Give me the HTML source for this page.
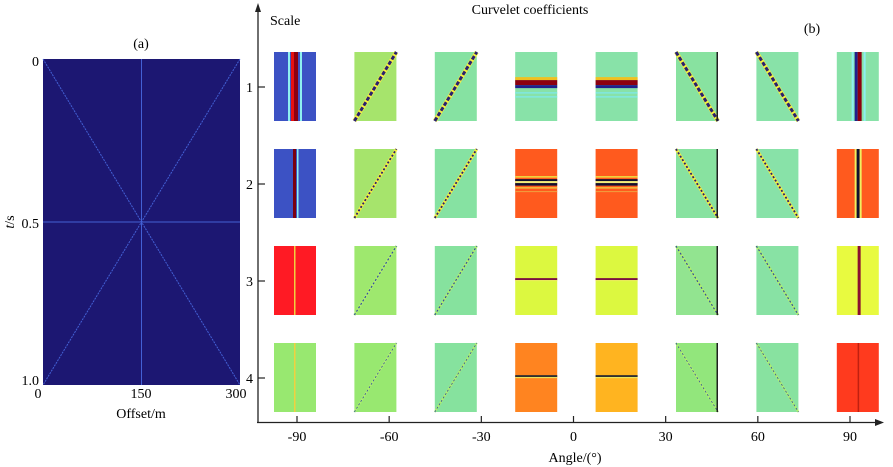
<!DOCTYPE html>
<html><head><meta charset="utf-8">
<style>
html,body{margin:0;padding:0;background:#fff;}
svg{display:block;font-family:"Liberation Serif",serif;}
</style></head>
<body>
<svg id="fig" width="893" height="467" viewBox="0 0 893 467">
  <g>
    <text x="141" y="48" font-size="14" text-anchor="middle">(a)</text>
    <rect x="43" y="59" width="197" height="326" fill="#1c1772"/>
    <g stroke="#4a6de6" stroke-width="1" opacity="0.85">
      <line x1="141.5" y1="59" x2="141.5" y2="385"/>
      <line x1="43" y1="222" x2="240" y2="222"/>
      <line x1="43" y1="59" x2="240" y2="385" stroke-dasharray="2,1"/>
      <line x1="240" y1="59" x2="43" y2="385" stroke-dasharray="2,1"/>
    </g>
    <text x="39" y="66" font-size="14" text-anchor="end">0</text>
    <text x="39" y="228" font-size="14" text-anchor="end">0.5</text>
    <text x="39" y="385" font-size="14" text-anchor="end">1.0</text>
    <text x="14" y="222" font-size="14" text-anchor="middle" transform="rotate(-90 14 222)"><tspan font-style="italic">t</tspan>/s</text>
    <text x="38" y="398" font-size="14" text-anchor="middle">0</text>
    <text x="141" y="398" font-size="14" text-anchor="middle">150</text>
    <text x="236" y="398" font-size="14" text-anchor="middle">300</text>
    <text x="141" y="418" font-size="14" text-anchor="middle">Offset/m</text>
  </g>
  <g id="pb">
    <text x="530" y="14" font-size="14" text-anchor="middle">Curvelet coefficients</text>
    <text x="812" y="33" font-size="14" text-anchor="middle">(b)</text>
    <text x="270" y="25" font-size="14">Scale</text>
    <line x1="258" y1="10" x2="258" y2="423" stroke="#222" stroke-width="1.3"/>
    <polygon points="258,3 255,12 261,12" fill="#222"/>
    <line x1="257" y1="422.5" x2="876" y2="422.5" stroke="#222" stroke-width="1.3"/>
    <polygon points="884,422.5 875,419 875,426" fill="#222"/>
    <text x="575" y="462" font-size="14" text-anchor="middle">Angle/(°)</text>
  </g>
</svg>
<script>
const angleTicks = [-90, -60, -30, 0, 30, 60, 90];
const scales = [1, 2, 3, 4];
const tileKinds = [
  ['v','d','d','h','h','b','b','v'],
  ['v','d','d','h','h','b','b','v'],
  ['v','d','d','h','h','b','b','v'],
  ['v','d','d','h','h','b','b','v']
];
const tileColors = [
  ['#3c52c4','#a6e46c','#86e2a2','#88e2a8','#88e2a8','#88e2a0','#88e2a8','#88e2a8'],
  ['#3c52c4','#a6e46c','#86e2a2','#ff5a1e','#ff5a1e','#88e2a0','#88e2a8','#ff5a1e'],
  ['#ff1a24','#9ee86e','#86e29e','#dcf840','#dcf840','#92e490','#88e2a4','#e8fa40'],
  ['#98e870','#98e870','#86e29e','#ff8420','#ffb420','#92e67c','#88e2a0','#ff3a1e']
];
const lineWidths = [3, 1.8, 1.2, 0.8];

const svg = document.getElementById('fig');
const NS = 'http://www.w3.org/2000/svg';
const xAngle = a => 297 + (a + 90) * (850 - 297) / 180;
const yScale = s => 87 + (s - 1) * 97;
const colX = i => 274 + i * 80.4;
const TW = 42, TH = 69;

function mk(tag, attrs, parent) {
  const e = document.createElementNS(NS, tag);
  for (const k in attrs) e.setAttribute(k, attrs[k]);
  (parent || svg).appendChild(e);
  return e;
}

angleTicks.forEach(a => {
  const x = xAngle(a);
  const t = mk('line', {x1: x, y1: 416, x2: x, y2: 422.5, stroke: '#222', 'stroke-width': 1.2});
  
  
  const l = mk('text', {x: x, y: 441, 'font-size': 14, 'text-anchor': 'middle'});
  l.textContent = a;
  
  
});

scales.forEach((s, r) => {
  const y = yScale(s);
  const t = mk('line', {x1: 258, y1: y, x2: 265, y2: y, stroke: '#222', 'stroke-width': 1.2});
  
  
  const l = mk('text', {x: 253, y: y + 5, 'font-size': 14, 'text-anchor': 'end'});
  l.textContent = s;
  
  

  const top = y - 35;
  tileKinds[r].forEach((k, c) => {
    const x0 = colX(c);
    const g = mk('g', {});
    
    
    mk('rect', {x: x0, y: top, width: TW, height: TH, fill: tileColors[r][c]}, g);
    const lw = lineWidths[r];
    if (k === 'v') {
      const cx = x0 + TW * (c === 0 ? 0.5 : 0.52);
      if (r === 0) {
        mk('rect', {x: cx - 7, y: top, width: 2, height: TH, fill: '#8ef0f0'}, g);
        mk('rect', {x: cx - 4, y: top, width: 3, height: TH, fill: c === 0 ? '#e81010' : '#20208c'}, g);
        mk('rect', {x: cx - 1, y: top, width: 4, height: TH, fill: '#8c0010'}, g);
        mk('rect', {x: cx + 5, y: top, width: 2, height: TH, fill: '#8ef0f0'}, g);
      } else if (r === 1) {
        if (c === 0) {
          mk('rect', {x: cx - 2, y: top, width: 3, height: TH, fill: '#7a0010'}, g);
          mk('rect', {x: cx + 2, y: top, width: 1.5, height: TH, fill: '#8ef0f0'}, g);
        } else {
          mk('rect', {x: cx - 4, y: top, width: 2, height: TH, fill: '#f0f060'}, g);
          mk('rect', {x: cx - 2, y: top, width: 3, height: TH, fill: '#101030'}, g);
          mk('rect', {x: cx + 1, y: top, width: 2, height: TH, fill: '#f0f060'}, g);
        }
      } else {
        mk('rect', {x: cx - 1, y: top, width: c === 7 && r === 2 ? 3 : 1.5, height: TH, fill: r === 2 && c === 7 ? '#8a1030' : (r === 3 && c === 7 ? '#c02010' : '#f0d040')}, g);
      }
    } else if (k === 'd' || k === 'b') {
      const x1 = x0, y1 = k === 'd' ? top + TH : top;
      const x2 = x0 + TW, y2 = k === 'd' ? top : top + TH;
      mk('line', {x1: x1, y1: y1, x2: x2, y2: y2, stroke: r >= 2 ? '#b0f070' : '#f4f040', 'stroke-width': lw + 1.2}, g);
      mk('line', {x1: x1, y1: y1, x2: x2, y2: y2, stroke: r >= 2 ? '#3050a0' : '#2a2070', 'stroke-width': lw, 'stroke-dasharray': r === 0 ? '4,2' : '2,2'}, g);
      if (c === 5) mk('rect', {x: x0 + TW - 1.5, y: top, width: 1.5, height: TH, fill: '#202020'}, g);
    } else if (k === 'h') {
      const cy = top + TH * 0.48;
      if (r === 0) {
        mk('rect', {x: x0, y: cy - 8, width: TW, height: 3, fill: '#f0c020'}, g);
        mk('rect', {x: x0, y: cy - 5, width: TW, height: 5, fill: '#8c0010'}, g);
        mk('rect', {x: x0, y: cy, width: TW, height: 3, fill: '#20208c'}, g);
        mk('rect', {x: x0, y: cy + 7, width: TW, height: 1.5, fill: '#80e8e0'}, g);
        mk('rect', {x: x0, y: cy + 11, width: TW, height: 1.5, fill: '#80e8e0'}, g);
      } else if (r === 1) {
        mk('rect', {x: x0, y: cy - 6, width: TW, height: 1.5, fill: '#f0e040'}, g);
        mk('rect', {x: x0, y: cy - 3, width: TW, height: 2, fill: '#101030'}, g);
        mk('rect', {x: x0, y: cy - 1, width: TW, height: 2, fill: '#f0f080'}, g);
        mk('rect', {x: x0, y: cy + 1, width: TW, height: 2.5, fill: '#101030'}, g);
        mk('rect', {x: x0, y: cy + 5, width: TW, height: 1.5, fill: '#f0c040'}, g);
        mk('rect', {x: x0, y: cy + 9, width: TW, height: 1, fill: '#f0a040'}, g);
      } else {
        mk('rect', {x: x0, y: cy - 1, width: TW, height: 2, fill: r === 2 ? '#7a1040' : '#303030'}, g);
        mk('rect', {x: x0, y: cy + 1, width: TW, height: 1, fill: '#f0f060'}, g);
      }
    }
  });
});
</script>
</body></html>
